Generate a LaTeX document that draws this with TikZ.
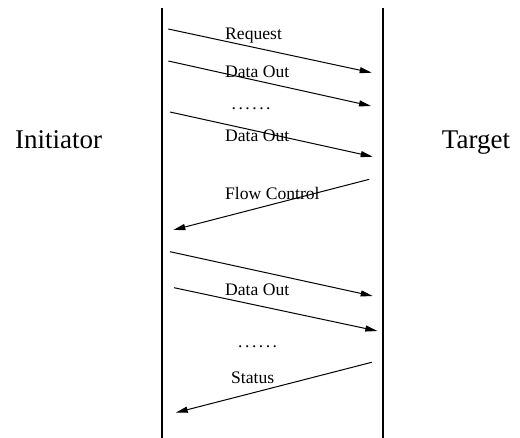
\documentclass[tikz,border=0pt]{standalone}
\usepackage{fontspec}
\setmainfont{Liberation Serif}
\usetikzlibrary{arrows.meta}
\newcommand{\gapdots}{.\kern2.5pt.\kern2.5pt.\kern2.5pt.\kern2.5pt.\kern2.5pt.}
\begin{document}
\begin{tikzpicture}[x=1pt,y=-1pt,
    msg/.style={draw, line width=1pt, -{Triangle[length=12pt,width=6pt]}},
    life/.style={draw, line width=2pt},
    lbl/.style={font=\fontsize{17.6}{20}\selectfont, inner sep=0pt, anchor=base west},
    side/.style={font=\fontsize{27}{30}\selectfont, inner sep=0pt, anchor=base west}]
        \useasboundingbox (0,0) rectangle (520,438);
        % lifelines
        \coordinate (It) at (161.7,8);
        \coordinate (Ib) at (161.7,438);
        \coordinate (Tt) at (383.3,8);
        \coordinate (Tb) at (383.3,438);
        \path [life] (It) -- (Ib);
        \path [life] (Tt) -- (Tb);
        \begin{scope}[every node/.style={side}]
            \node (I) at (15,148.3) {Initiator};
            \node (T) at (441.7,148.3) {Target};
        \end{scope}
        % message ends
        \coordinate (r1) at (168.3,29);   \coordinate (r2) at (371.7,72.7);
        \coordinate (d1) at (168.3,61);   \coordinate (d2) at (371,106);
        \coordinate (e1) at (170,112);    \coordinate (e2) at (372.7,156.7);
        \coordinate (f1) at (369.3,179.3);\coordinate (f2) at (173.3,230);
        \coordinate (g1) at (170,251.7);  \coordinate (g2) at (372.7,296);
        \coordinate (h1) at (174,287.7);  \coordinate (h2) at (377.3,331);
        \coordinate (s1) at (371.7,362.3);\coordinate (s2) at (175.7,412.7);
        \begin{scope}[every path/.style={msg}]
            \path (r1) -- (r2);
            \path (d1) -- (d2);
            \path (e1) -- (e2);
            \path (f1) -- (f2);
            \path (g1) -- (g2);
            \path (h1) -- (h2);
            \path (s1) -- (s2);
        \end{scope}
        \begin{scope}[every node/.style={lbl}]
            \node (req) at (225,40) {Request};
            \node (do1) at (225,78) {Data Out};
            \node (dot1) at (231.5,110) {\gapdots};
            \node (do2) at (225,141.7) {Data Out};
            \node (fc) at (225,200) {Flow Control};
            \node (do3) at (225,296) {Data Out};
            \node (dot2) at (238,347.7) {\gapdots};
            \node (st) at (231,384) {Status};
        \end{scope}
    \end{tikzpicture}
\end{document}
